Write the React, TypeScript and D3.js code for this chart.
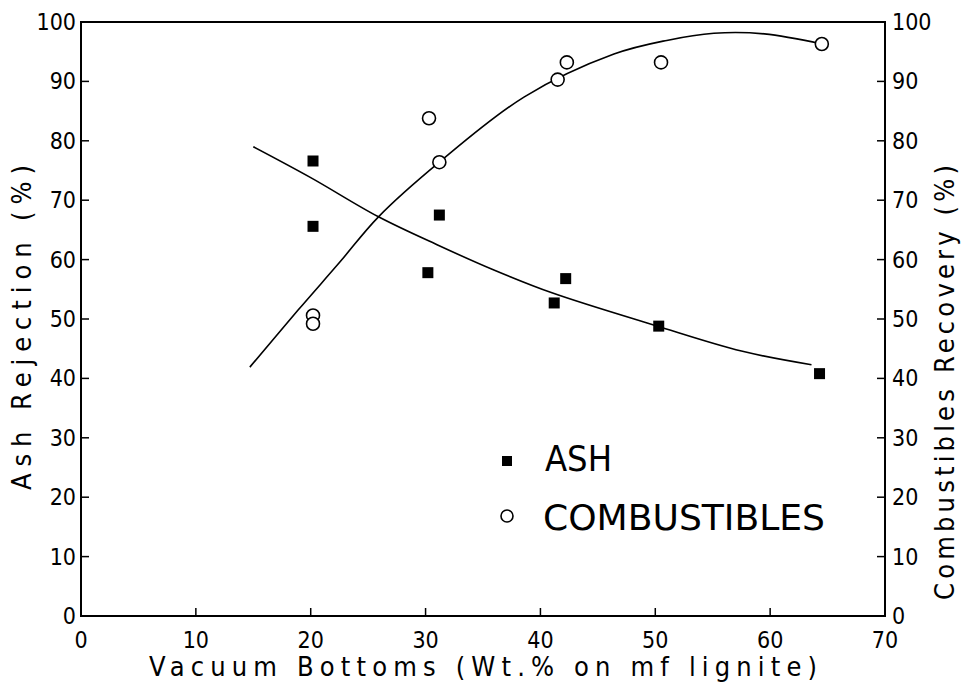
import * as d3 from "d3";

// measured points
const ashX = [20.2, 20.2, 31.2, 30.2, 42.2, 41.2, 50.3, 64.3];
const ashY = [76.6, 65.6, 67.5, 57.8, 56.8, 52.7, 48.8, 40.8];
const combX = [20.2, 20.2, 30.3, 31.2, 41.5, 42.3, 50.5, 64.5];
const combY = [50.6, 49.2, 83.8, 76.4, 90.3, 93.2, 93.2, 96.3];

// fitted curves as traced
const ashCurveX = [15, 20, 25.9, 31, 36, 41, 50, 57.5, 63.6];
const ashCurveY = [79, 73.8, 67.2, 62.5, 58.2, 54.4, 48.9, 44.6, 42.3];
const combCurveX = [14.7, 18.9, 22.5, 25.9, 31.2, 38.6, 46.4, 51, 55.1, 59.5, 64.5];
const combCurveY = [41.9, 51.5, 59.5, 67.2, 76.4, 87.4, 94.6, 96.9, 98.1, 98, 96.3];

const xTicks = [0, 10, 20, 30, 40, 50, 60, 70];
const yTicks = [0, 10, 20, 30, 40, 50, 60, 70, 80, 90, 100];

const W = 964;
const H = 688;
const left = 81;
const right = 885;
const top = 22;
const bottom = 616;
const font = "'DejaVu Sans Condensed', 'DejaVu Sans', sans-serif";

export default function App() {
  const x = d3.scaleLinear().domain([0, 70]).range([left, right]);
  const y = d3.scaleLinear().domain([0, 100]).range([bottom, top]);

  const line = d3
    .line<[number, number]>()
    .x((d) => x(d[0]))
    .y((d) => y(d[1]))
    .curve(d3.curveCatmullRom);

  const ashLine = line(ashCurveX.map((v, i) => [v, ashCurveY[i]]));
  const combLine = line(combCurveX.map((v, i) => [v, combCurveY[i]]));

  const sq = 11;

  return (
    <svg
      width={W}
      height={H}
      style={{ position: "absolute", left: 0, top: 0, background: "#fff" }}
      fontFamily={font}
    >
      {/* frame */}
      <rect x={left} y={top} width={right - left} height={bottom - top} fill="none" stroke="#000" strokeWidth={2} />

      {/* left / right axis ticks */}
      {yTicks.map((t) => (
        <g key={"l" + t}>
          <line x1={left} x2={left + 8} y1={y(t)} y2={y(t)} stroke="#000" strokeWidth={1.5} />
          <text x={left - 5} y={y(t) + 8} fontSize={23} textAnchor="end" fill="#000">
            {t}
          </text>
          <line x1={right - 8} x2={right} y1={y(t)} y2={y(t)} stroke="#000" strokeWidth={1.5} />
          <text x={right + 7} y={y(t) + 8} fontSize={23} textAnchor="start" fill="#000">
            {t}
          </text>
        </g>
      ))}

      {/* bottom axis ticks */}
      {xTicks.map((t) => (
        <g key={"b" + t}>
          <line x1={x(t)} x2={x(t)} y1={bottom} y2={bottom - 8} stroke="#000" strokeWidth={1.5} />
          <text x={x(t)} y={bottom + 32} fontSize={23} textAnchor="middle" fill="#000">
            {t}
          </text>
        </g>
      ))}

      {/* axis titles */}
      <text x={483} y={676} fontSize={27} textAnchor="middle" textLength={668} lengthAdjust="spacing" fill="#000">
        Vacuum Bottoms (Wt.% on mf lignite)
      </text>
      <text
        transform={`translate(31,${(165 + 490) / 2}) rotate(-90)`}
        fontSize={27}
        textAnchor="middle"
        textLength={325}
        lengthAdjust="spacing"
        fill="#000"
      >
        Ash Rejection (%)
      </text>
      <text
        transform={`translate(954,${(165 + 600) / 2}) rotate(-90)`}
        fontSize={27}
        textAnchor="middle"
        textLength={435}
        lengthAdjust="spacing"
        fill="#000"
      >
        Combustibles Recovery (%)
      </text>

      {/* curves */}
      <path d={ashLine ?? ""} fill="none" stroke="#000" strokeWidth={1.6} />
      <path d={combLine ?? ""} fill="none" stroke="#000" strokeWidth={1.6} />

      {/* ash markers */}
      {ashX.map((v, i) => (
        <rect key={"a" + i} x={x(v) - sq / 2} y={y(ashY[i]) - sq / 2} width={sq} height={sq} fill="#000" />
      ))}

      {/* combustibles markers */}
      {combX.map((v, i) => (
        <circle key={"c" + i} cx={x(v)} cy={y(combY[i])} r={6.5} fill="#fff" stroke="#000" strokeWidth={1.6} />
      ))}

      {/* legend */}
      <rect x={507 - 5} y={461 - 5} width={10} height={10} fill="#000" />
      <text x={545} y={471} fontSize={36} textLength={67} lengthAdjust="spacingAndGlyphs" fill="#000">
        ASH
      </text>
      <circle cx={507} cy={516} r={6} fill="#fff" stroke="#000" strokeWidth={1.6} />
      <text x={543} y={530} fontSize={36} textLength={282} lengthAdjust="spacingAndGlyphs" fill="#000">
        COMBUSTIBLES
      </text>
    </svg>
  );
}
